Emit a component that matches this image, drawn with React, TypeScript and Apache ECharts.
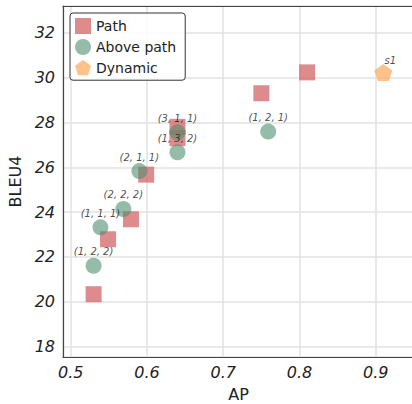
import React, { useEffect, useRef } from "react";
import * as echarts from "echarts";

// Path configurations: AP vs BLEU4
const pathAP = [0.53, 0.549, 0.579, 0.599, 0.64, 0.64, 0.75, 0.81];
const pathBLEU = [20.34, 22.79, 23.68, 25.67, 27.8, 27.3, 29.3, 30.23];

// Configurations above the path, with their (a, b, c) tags
const aboveAP = [0.53, 0.539, 0.569, 0.59, 0.64, 0.64, 0.759];
const aboveBLEU = [21.61, 23.32, 24.14, 25.83, 26.67, 27.56, 27.59];
const aboveTags = ["(1, 2, 2)", "(1, 1, 1)", "(2, 2, 2)", "(2, 1, 1)", "(1, 3, 2)", "(3, 1, 1)", "(1, 2, 1)"];

// Dynamic model
const dynamicAP = [0.91];
const dynamicBLEU = [30.23];
const dynamicTags = ["s1"];

const seriesNames = ["Path", "Above path", "Dynamic"];

const PENTAGON = "path://M0,-1 L0.951,-0.309 L0.588,0.809 L-0.588,0.809 L-0.951,-0.309 Z";
const FONT = "DejaVu Sans";
const X_MIN = 0.4899;
const X_MAX = 0.9502;

const isRound = (v: number, step: number) => Math.abs(v / step - Math.round(v / step)) < 1e-6;

export default function App() {
  const ref = useRef<HTMLDivElement>(null);

  useEffect(() => {
    if (!ref.current) return;
    const chart = echarts.init(ref.current, null, { renderer: "svg" });

    const tagLabel = (tags: string[]) => ({
      show: true,
      position: "top",
      distance: 1,
      fontFamily: FONT,
      fontStyle: "italic",
      fontSize: 10,
      color: "#1a1a1a",
      formatter: (p: any) => tags[p.dataIndex],
    });

    const spine = { show: true, lineStyle: { color: "#444", width: 1.2 } };

    chart.setOption({
      animation: false,
      backgroundColor: "#ffffff",
      grid: { left: 63, top: 6, right: -2, bottom: 47, outerBoundsMode: "none", containLabel: false },
      legend: {
        orient: "vertical",
        left: 70,
        top: 13,
        data: seriesNames,
        itemWidth: 16,
        itemHeight: 16,
        itemGap: 5,
        padding: [5, 9, 5, 5],
        borderColor: "#333",
        borderWidth: 1,
        borderRadius: 3,
        backgroundColor: "rgba(255,255,255,0.85)",
        textStyle: { fontFamily: FONT, fontSize: 14, color: "#222" },
      },
      xAxis: [
        {
          type: "value",
          min: X_MIN,
          max: X_MAX,
          splitNumber: 5,
          minInterval: 0.1,
          maxInterval: 0.1,
          name: "AP",
          nameLocation: "middle",
          nameGap: 29,
          nameTextStyle: { fontFamily: FONT, fontSize: 16, color: "#222" },
          axisLine: spine,
          axisTick: { show: false },
          axisLabel: {
            margin: 7,
            fontFamily: FONT,
            fontStyle: "italic",
            fontSize: 16,
            color: "#222",
            formatter: (v: number) => (isRound(v, 0.1) ? v.toFixed(1) : ""),
          },
          splitLine: { show: true, lineStyle: { color: "#e2e2e2", width: 1.5 } },
        },
        {
          // top frame line
          type: "value",
          position: "top",
          min: X_MIN,
          max: X_MAX,
          axisLine: spine,
          axisTick: { show: false },
          axisLabel: { show: false },
          splitLine: { show: false },
        },
      ],
      yAxis: {
        type: "value",
        min: 17.54,
        max: 33.19,
        splitNumber: 8,
        minInterval: 2,
        maxInterval: 2,
        name: "BLEU4",
        nameLocation: "middle",
        nameGap: 38,
        nameTextStyle: { fontFamily: FONT, fontSize: 16, color: "#222" },
        axisLine: spine,
        axisTick: { show: false },
        axisLabel: {
          margin: 8,
          fontFamily: FONT,
          fontStyle: "italic",
          fontSize: 16,
          color: "#222",
          formatter: (v: number) => (isRound(v, 2) ? String(Math.round(v)) : ""),
        },
        splitLine: { show: true, lineStyle: { color: "#e2e2e2", width: 1.5 } },
      },
      series: [
        {
          name: seriesNames[0],
          type: "scatter",
          symbol: "rect",
          symbolSize: 16,
          itemStyle: { color: "rgba(208,90,95,0.88)" },
          data: pathAP.map((x, i) => [x, pathBLEU[i]]),
          z: 2,
        },
        {
          name: seriesNames[1],
          type: "scatter",
          symbol: "circle",
          symbolSize: 16,
          itemStyle: { color: "rgba(79,143,110,0.75)" },
          label: tagLabel(aboveTags),
          data: aboveAP.map((x, i) => [x, aboveBLEU[i]]),
          z: 3,
        },
        {
          name: seriesNames[2],
          type: "scatter",
          symbol: PENTAGON,
          symbolSize: [18, 17],
          itemStyle: { color: "rgba(255,170,94,0.9)" },
          label: { ...tagLabel(dynamicTags), distance: -2, offset: [7, 0] },
          data: dynamicAP.map((x, i) => [x, dynamicBLEU[i]]),
          z: 4,
        },
      ],
    });

    return () => chart.dispose();
  }, []);

  return (
    <div
      ref={ref}
      style={{ position: "absolute", left: 0, top: 0, width: 412, height: 404 }}
    />
  );
}
